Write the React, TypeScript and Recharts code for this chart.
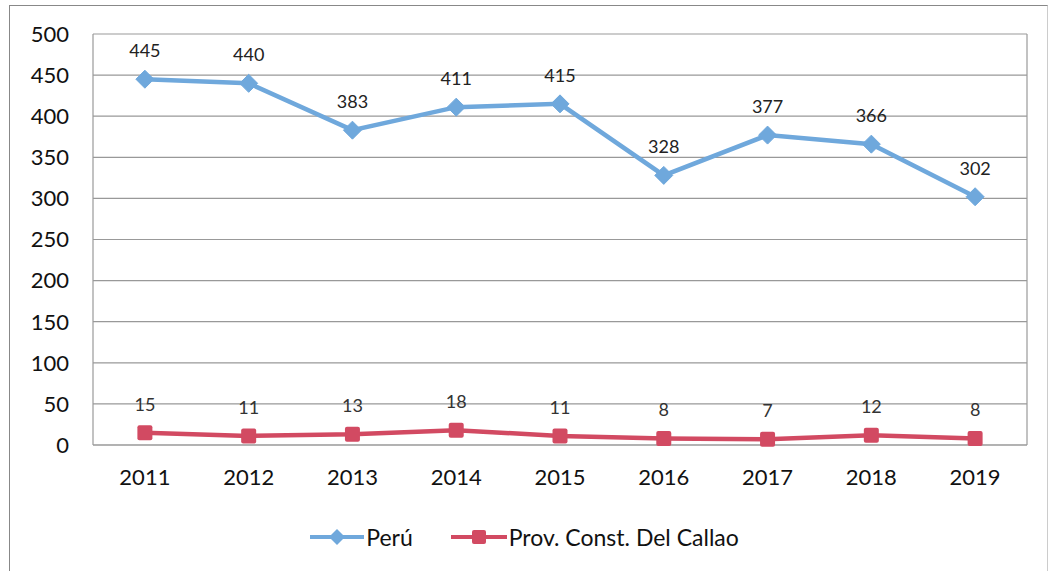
import React from "react";
import { LineChart, Line, XAxis, YAxis, CartesianGrid, Legend, LabelList } from "recharts";

const years = ["2011", "2012", "2013", "2014", "2015", "2016", "2017", "2018", "2019"];
const peru = [445, 440, 383, 411, 415, 328, 377, 366, 302];
const callao = [15, 11, 13, 18, 11, 8, 7, 12, 8];
const yTicks = [0, 50, 100, 150, 200, 250, 300, 350, 400, 450, 500];

const BLUE = "#6FA8DC";
const RED = "#D24A62";
const FONT = "Lato, 'Open Sans', sans-serif";

const data = years.map((y, i) => ({ year: y, peru: peru[i], callao: callao[i] }));

const Diamond = (props: any) => {
  const { cx, cy } = props;
  if (cx == null || cy == null) return null;
  const s = 9;
  return <path d={`M${cx},${cy - s}L${cx + s},${cy}L${cx},${cy + s}L${cx - s},${cy}Z`} fill={BLUE} stroke={BLUE} strokeWidth={1} />;
};
const Square = (props: any) => {
  const { cx, cy } = props;
  if (cx == null || cy == null) return null;
  const s = 7.5;
  return <rect x={cx - s} y={cy - s} width={2 * s} height={2 * s} rx={2} fill={RED} />;
};

const LegendContent = () => (
  <div style={{ display: "flex", justifyContent: "center", alignItems: "center", fontFamily: FONT, fontSize: 23, color: "#111", paddingTop: 22, marginLeft: 20 }}>
    <svg width={58} height={20}>
      <line x1={2} y1={10} x2={56} y2={10} stroke={BLUE} strokeWidth={4} />
      <path d="M29,2L37,10L29,18L21,10Z" fill={BLUE} />
    </svg>
    <span style={{ marginRight: 36 }}>Perú</span>
    <svg width={60} height={20}>
      <line x1={2} y1={10} x2={58} y2={10} stroke={RED} strokeWidth={4} />
      <rect x={23} y={3} width={14} height={14} rx={2} fill={RED} />
    </svg>
    <span>Prov. Const. Del Callao</span>
  </div>
);

export default function App() {
  return (
    <div style={{ position: "absolute", left: 0, top: 0, width: 1049, height: 571, background: "#fff" }}>
      <div style={{ position: "absolute", left: 9, top: 5, width: 1037, height: 570, border: "1.5px solid #888", borderBottom: "none", borderRight: "1px solid #ccc" }} />
      <LineChart
        width={1049}
        height={571}
        data={data}
        margin={{ top: 34, right: 22, bottom: 0, left: 0 }}
        style={{ position: "absolute", left: 0, top: 0 }}
      >
        <CartesianGrid
          stroke="#999"
          strokeWidth={1.2}
          verticalCoordinatesGenerator={({ offset }: any) => [offset.left, offset.left + offset.width]}
        />
        <XAxis
          dataKey="year"
          scale="band"
          axisLine={{ stroke: "#999" }}
          tickLine={false}
          tickSize={0}
          tickMargin={24}
          tick={{ fontFamily: FONT, fontSize: 22, fill: "#111" }}
          height={56}
        />
        <YAxis
          domain={[0, 500]}
          ticks={yTicks}
          interval={0}
          width={93}
          axisLine={false}
          tickLine={false}
          tickSize={0}
          tickMargin={24}
          tick={{ fontFamily: FONT, fontSize: 22, fill: "#111" }}
        />
        <Legend verticalAlign="bottom" height={70} content={<LegendContent />} />
        <Line dataKey="peru" stroke={BLUE} strokeWidth={4.5} dot={<Diamond />} activeDot={false} isAnimationActive={false}>
          <LabelList dataKey="peru" position="top" offset={22} style={{ fontFamily: FONT, fontSize: 18, fill: "#222" }} />
        </Line>
        <Line dataKey="callao" stroke={RED} strokeWidth={4.5} dot={<Square />} activeDot={false} isAnimationActive={false}>
          <LabelList dataKey="callao" position="top" offset={22} style={{ fontFamily: FONT, fontSize: 18, fill: "#333" }} />
        </Line>
      </LineChart>
    </div>
  );
}
